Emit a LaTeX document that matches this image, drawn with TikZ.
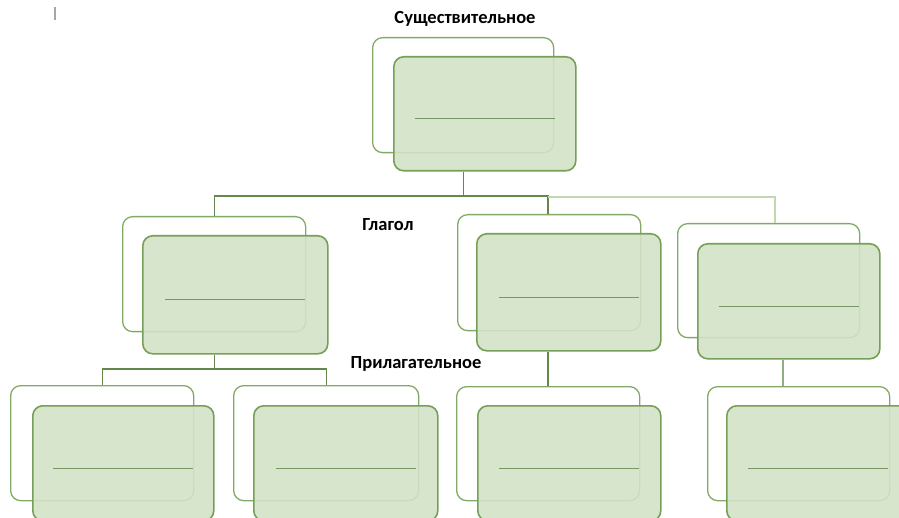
\documentclass[tikz,border=0pt]{standalone}
\usepackage{fontspec}
\setmainfont{Carlito}
\definecolor{boxborder}{RGB}{118,160,88}
\definecolor{backborder}{RGB}{130,170,102}
\definecolor{boxfill}{RGB}{211,226,199}
\definecolor{innerline}{RGB}{120,152,100}
\definecolor{connc}{RGB}{100,136,76}
\definecolor{connlight}{RGB}{196,216,176}
\newcommand\boxpair[9]{%
  \node[backbox, anchor=north west, minimum width=#4pt, minimum height=#5pt] (#1-b) at (#2,#3) {};
  \node[frontbox, anchor=north west, minimum width=#8pt, minimum height=#9pt] (#1-f) at (#6,#7) {};
  \draw[innerl] ([shift={(-70,5)}]#1-f.center) -- ([shift={(70,5)}]#1-f.center);
}
\begin{document}
\begin{tikzpicture}[x=1pt,y=-1pt,
  backbox/.style={draw=backborder, fill=white, rounded corners=10pt, line width=1.3pt, inner sep=0pt},
  frontbox/.style={draw=boxborder, fill=boxfill, fill opacity=0.88, draw opacity=1, rounded corners=10pt, line width=1.6pt, inner sep=0pt},
  innerl/.style={draw=innerline, line width=1.3pt},
  conn/.style={draw=connc, line width=1.3pt},
  connl/.style={draw=connlight, line width=1.2pt},
  lbl/.style={font=\bfseries\fontsize{18.5}{22}\selectfont, text=black, inner sep=0pt}]
\useasboundingbox (0,0) rectangle (899,518);
\clip (0,0) rectangle (899,518);
\fill[white] (0,0) rectangle (899,518);
% cursor mark
\draw[gray!70, line width=1.3pt] (55,7) -- (55,20);
\coordinate (mrx) at (775,0);
\coordinate (brx) at (783,0);
\coordinate (mmx) at (548,0);
% boxes
\boxpair{top}{372}{37}{181}{115}{393}{56}{182}{114}
\boxpair{ml}{122}{216}{183}{115}{142}{235}{185}{118}
\boxpair{mm}{457}{214}{183}{116}{476}{233}{184}{117}
\boxpair{mr}{677}{223}{182}{114}{697}{243}{182}{115}
\boxpair{bl1}{10}{385}{183}{115}{32}{405}{181}{115}
\boxpair{bl2}{233}{385}{185}{115}{253}{405}{184}{115}
\boxpair{bm}{456}{386}{183}{114}{477}{405}{183}{115}
\boxpair{br}{707}{386}{182}{114}{726}{405}{183}{115}
% connectors
\draw[conn] (top-b.south |- top-f.south) -- (top-b.south |- 0,196) coordinate (j1);
\draw[conn] (ml-b.north) |- (j1) -| (mmx |- mm-b.north);
\draw[connl] (mmx |- 0,197) -| (mrx |- mr-b.north);
\draw[conn] (ml-b.south |- ml-f.south) -- (ml-b.south |- 0,369) coordinate (j2);
\draw[conn] (bl1-b.north) |- (j2) -| (bl2-b.north);
\draw[conn] (mmx |- mm-f.south) -- (mmx |- bm-b.north);
\draw[conn, draw=connc!70] (brx |- mr-f.south) -- (brx |- br-b.north);
% labels
\node[lbl] (t1) at (465,19) {Существительное};
\node[lbl] (t2) at (388,225) {Глагол};
\node[lbl] (t3) at (416,364) {Прилагательное};
\end{tikzpicture}
\end{document}
